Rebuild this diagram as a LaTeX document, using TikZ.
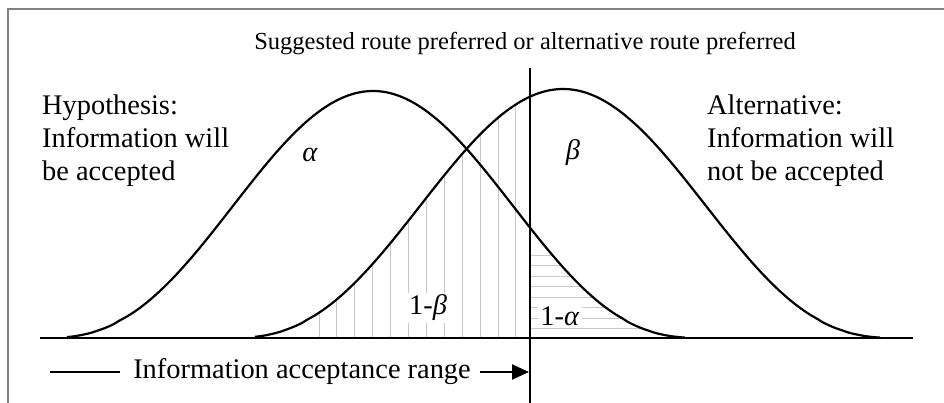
\documentclass[tikz,border=0pt]{standalone}
\usepackage{fontspec}
\setmainfont{Liberation Serif}
\usetikzlibrary{arrows.meta}
\tikzset{
  curve/.style={line width=2.2pt, black},
  axisline/.style={line width=2.8pt, black},
  hatch/.style={line width=1pt, black!22},
  frameline/.style={line width=2.4pt, black!50},
  txt/.style={inner sep=0pt, font=\fontsize{28.4}{33}\selectfont},
  lbl/.style={fill=white, inner sep=2pt, font=\fontsize{28.4}{33}\selectfont},
}
\def\alphacurve{plot[domain=-306:312,samples=120,smooth] ({373+\x},{338-247*((1+cos(\x/330*180))/2)^1.3})}
\def\betacurve{plot[domain=-308:317,samples=120,smooth] ({563+\x},{338-249*((1+cos(\x/335*180))/2)^1.3})}
\begin{document}
\begin{tikzpicture}[x=1pt,y=-1pt]
\useasboundingbox (0,0) rectangle (944,403);
% frame
\draw[frameline] (944,9) -- (8,9) -- (8,403);
% hatching under beta curve (1-beta)
\begin{scope}
  \clip \betacurve -- cycle;
  \foreach \k in {0,...,11} {
    \draw[hatch] ({319+17.9*\k},338) -- ({319+17.9*\k},60);
  }
\end{scope}
% hatching under alpha curve (1-alpha)
\begin{scope}
  \clip \alphacurve -- cycle;
  \foreach \k in {0,...,7} {
    \draw[hatch] (531,{255+10.5*\k}) -- (720,{255+10.5*\k});
  }
\end{scope}
% curves
\draw[curve] \alphacurve;
\draw[curve] \betacurve;
% axis and decision line
\coordinate (axl) at (40,338);
\coordinate (axr) at (913,338);
\coordinate (vtop) at (530,68);
\coordinate (vbot) at (530,403);
\draw[axisline] (axl) -- (axr);
\draw[axisline] (vtop) -- (vbot);
% labels
\node[txt] (title) at (525,44) {\fontsize{24.5}{30}\selectfont Suggested route preferred or alternative route preferred};
\node[txt, anchor=north west, align=left] (hyp) at (42,95) {Hypothesis:\\Information will\\be accepted};
\node[txt, anchor=north west, align=left] (alt) at (707,95) {Alternative:\\Information will\\not be accepted};
\node[txt] (al) at (310,155) {\textit{α}};
\node[txt] (be) at (573,153) {\textit{β}};
\node[lbl] (omb) at (428,308) {1-\textit{β}};
\node[lbl] (oma) at (560,316) {1-\textit{α}};
% acceptance range
\node[txt] (range) at (302,372) {Information acceptance range};
\coordinate (rl) at (50,372);
\coordinate (tip) at (529,372);
\draw[line width=2.4pt] (rl) -- ([xshift=-13pt]range.west);
\draw[line width=2.4pt, -{Triangle[length=17pt,width=15pt]}] ([xshift=9pt]range.east) -- (tip);
\end{tikzpicture}
\end{document}
